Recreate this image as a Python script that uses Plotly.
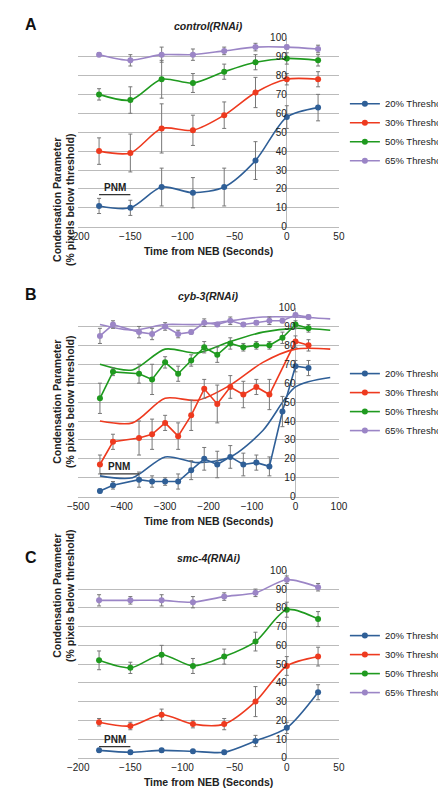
import plotly.graph_objects as go

names = ["20% Threshold", "30% Threshold", "50% Threshold", "65% Threshold"]
colors = ["#2f5f97", "#ee3a1f", "#1f9a1f", "#9b85c6"]

# Panel A: control(RNAi)
xa = [-180, -150, -120, -90, -60, -30, 0, 30]
ya = [[11, 10, 21, 18, 21, 35, 58, 63],
      [40, 39, 52, 51, 59, 71, 78, 78],
      [70, 67, 78, 76, 82, 87, 89, 88],
      [91, 88, 91, 91, 93, 95, 95, 94]]
ea = [[4, 4, 10, 8, 10, 10, 6, 7],
      [7, 10, 13, 8, 7, 8, 3, 4],
      [3, 7, 10, 5, 4, 4, 3, 3],
      [1, 3, 4, 3, 2, 2, 1, 2]]

# Panel B: cyb-3(RNAi)
xb = [-450, -420, -360, -330, -300, -270, -240, -210, -180, -150, -120, -90, -60, -30, 0, 30]
xb_red = [-450, -420, -360, -330, -300, -270, -240, -210, -180, -150, -120, -90, -60, 0, 30]
yb = [[3, 6, 9, 8, 8, 8, 14, 20, 17, 21, 17, 18, 16, 45, 69, 68],
      [17, 29, 31, 33, 39, 32, 43, 57, 49, 58, 54, 58, 54, 82, 80],
      [52, 66, 65, 62, 71, 65, 72, 79, 75, 81, 79, 80, 80, 84, 91, 89],
      [85, 91, 87, 86, 90, 86, 87, 92, 91, 93, 91, 92, 93, 93, 96, 95]]
eb = [[1, 2, 4, 3, 2, 4, 5, 6, 7, 6, 6, 4, 5, 8, 3, 4],
      [5, 4, 9, 8, 4, 7, 8, 5, 10, 6, 7, 4, 8, 3, 3],
      [8, 2, 5, 8, 3, 4, 3, 3, 4, 3, 2, 2, 2, 3, 2, 2],
      [4, 2, 3, 3, 2, 2, 1, 2, 1, 2, 1, 1, 2, 1, 1, 1]]
# control curves overlaid in panel B (time stretched)
xb_ctrl = [-450, -375, -300, -225, -150, -75, 0, 80]

# Panel C: smc-4(RNAi)
xc = [-180, -150, -120, -90, -60, -30, 0, 30]
yc = [[4, 3, 4, 3.5, 3, 9, 16, 35],
      [19, 17, 23, 18, 18, 30, 49, 54],
      [52, 48, 55, 49, 54, 62, 79, 74],
      [84, 84, 84, 83, 86, 88, 95, 91]]
ec = [[1, 1, 1, 1, 1, 3, 3, 4],
      [2, 2, 3, 2, 3, 8, 5, 5],
      [5, 3, 5, 4, 4, 5, 4, 4],
      [3, 2, 3, 3, 2, 2, 2, 2]]

fig = go.Figure()
X0, X1 = 0.139, 0.751
doms = [[0.73, 0.97], [0.3875, 0.6275], [0.056, 0.294]]
xr = [[-200, 50], [-500, 100], [-200, 50]]
xt = [[-200, -150, -100, -50, 0, 50], [-500, -400, -300, -200, -100, 0, 100], [-200, -150, -100, -50, 0, 50]]
titles = ["control(RNAi)", "cyb-3(RNAi)", "smc-4(RNAi)"]
letters = ["A", "B", "C"]
pnm_y = [17, 12, 6]
pnm_x = [[-180, -150], [-450, -360], [-180, -150]]

def add(i, x, y, e, c, name, legend, show=True, smooth=True):
    sfx = "" if i == 0 else str(i + 1)
    fig.add_trace(go.Scatter(
        x=x, y=y, name=name, mode="lines+markers" if e is not None else "lines",
        line=dict(color=c, width=1.6, shape="spline" if smooth else "linear", smoothing=0.8),
        marker=dict(size=6, color=c),
        error_y=dict(type="data", array=e, color="#777", thickness=1, width=2) if e is not None else None,
        xaxis="x" + sfx, yaxis="y" + sfx, legend=legend, showlegend=show))

for k in range(4):
    add(0, xa, ya[k], ea[k], colors[k], names[k], "legend")
for k in range(4):
    add(1, xb_ctrl, ya[k], None, colors[k], names[k], "legend2", show=False)
for k in range(4):
    add(1, xb_red if k == 1 else xb, yb[k], eb[k], colors[k], names[k], "legend2", smooth=False)
for k in range(4):
    add(2, xc, yc[k], ec[k], colors[k], names[k], "legend3")

lay = {}
anns = []
shapes = []
for i in range(3):
    sfx = "" if i == 0 else str(i + 1)
    lo, hi = xr[i]
    pos = X0 + (0 - lo) / (hi - lo) * (X1 - X0)
    lay["xaxis" + sfx] = dict(domain=[X0, X1], range=xr[i], tickvals=xt[i], anchor="y" + sfx,
                             showgrid=False, zeroline=True, zerolinecolor="#bbb", zerolinewidth=1,
                             showline=True, linecolor="#bbb", ticks="", tickfont=dict(size=10, color="#222"),
                             title=dict(text="<b>Time from NEB (Seconds)</b>", font=dict(size=10.5, color="#222"), standoff=6))
    lay["yaxis" + sfx] = dict(domain=doms[i], range=[0, 100], dtick=10, anchor="free", position=pos,
                             showgrid=True, gridcolor="#bbb", zeroline=False, showline=False,
                             tickfont=dict(size=10, color="#222"), ticks="")
    lay["legend" + ("" if i == 0 else str(i + 1))] = dict(
        x=0.765, y=(doms[i][0] + doms[i][1]) / 2, xanchor="left", yanchor="middle",
        font=dict(size=9.5, color="#222"), bgcolor="rgba(0,0,0,0)", tracegroupgap=4, itemwidth=30)
    anns.append(dict(text="<b>Condensation Parameter<br>(% pixels below threshold)</b>", xref="paper", yref="paper",
                     x=0.07, y=(doms[i][0] + doms[i][1]) / 2, textangle=-90, showarrow=False,
                     font=dict(size=10.5, color="#222")))
    anns.append(dict(text="<b><i>" + titles[i] + "</i></b>", xref="paper", yref="paper",
                     x=(X0 + X1) / 2, y=doms[i][1] + 0.005, yanchor="bottom", showarrow=False,
                     font=dict(size=10.5, color="#222")))
    anns.append(dict(text="<b>" + letters[i] + "</b>", xref="paper", yref="paper", x=0.01,
                     y=doms[i][1] + 0.03, xanchor="left", yanchor="top", showarrow=False,
                     font=dict(size=16, color="#111")))
    anns.append(dict(text="<b>PNM</b>", xref="x" + sfx, yref="y" + sfx, x=sum(pnm_x[i]) / 2, y=pnm_y[i],
                     yanchor="bottom", showarrow=False, font=dict(size=10, color="#222")))
    shapes.append(dict(type="line", xref="x" + sfx, yref="y" + sfx, x0=pnm_x[i][0], x1=pnm_x[i][1],
                       y0=pnm_y[i], y1=pnm_y[i], line=dict(color="#333", width=1.2)))

fig.update_layout(width=446, height=800, margin=dict(l=0, r=0, t=0, b=0),
                  plot_bgcolor="white", paper_bgcolor="white",
                  font=dict(family="Liberation Sans, Arial"), annotations=anns, shapes=shapes, **lay)
fig.write_html("out.html")
